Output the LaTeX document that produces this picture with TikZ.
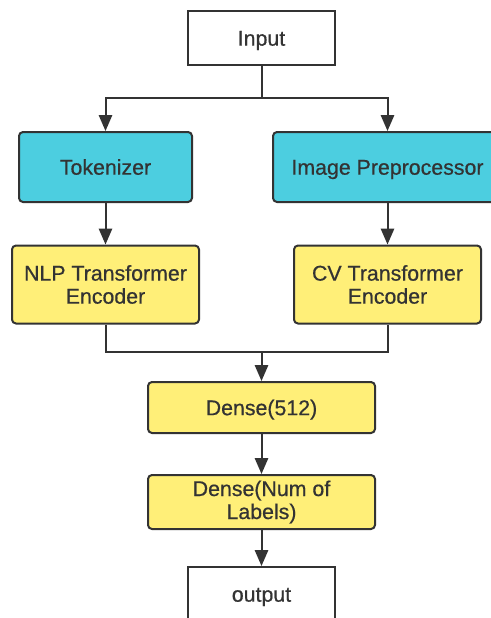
\documentclass[tikz,border=0pt]{standalone}
\usepackage{fontspec}
\setmainfont{Liberation Sans}
\newfontfamily\boxfont{Liberation Sans}[FakeBold=0.6]
\usetikzlibrary{arrows.meta}
\definecolor{lineC}{RGB}{51,51,51}
\definecolor{cyanC}{RGB}{76,206,224}
\definecolor{yellowC}{RGB}{255,239,120}
\begin{document}
\begin{tikzpicture}[x=0.75pt,y=-0.75pt,
  base/.style={draw=lineC,line width=1.5pt,text=lineC,align=center,inner sep=0pt,
    font=\boxfont\fontsize{16}{17.25}\selectfont},
  one/.style={text height=14pt,text depth=2.5pt},
  whitebox/.style={base,fill=white},
  cyanbox/.style={base,fill=cyanC,rounded corners=3pt},
  yellowbox/.style={base,fill=yellowC,rounded corners=3pt},
  conn/.style={draw=lineC,line width=1.5pt},
  arr/.style={conn,-{Triangle[length=12pt,width=10pt]}}]
\clip (0,0) rectangle (491,618);
\fill[white] (0,0) rectangle (491,618);
\node[whitebox,one,minimum width=110.25pt,minimum height=40.5pt] (in) at (261.5,38) {Input};
\node[cyanbox,one,minimum width=129.75pt,minimum height=52.5pt] (tok) at (105.5,167) {Tokenizer};
\node[cyanbox,one,minimum width=171.75pt,minimum height=52.5pt] (img) at (387.5,167) {Image Preprocessor};
\node[yellowbox,minimum width=140.25pt,minimum height=58.5pt] (nlp) at (105.5,284.5) {NLP Transformer\\Encoder};
\node[yellowbox,minimum width=140.25pt,minimum height=58.5pt] (cv) at (387.5,284.5) {CV Transformer\\Encoder};
\node[yellowbox,one,minimum width=170.25pt,minimum height=38.25pt] (d1) at (261.5,407.5) {Dense(512)};
\node[yellowbox,minimum width=170.25pt,minimum height=40.5pt] (d2) at (261.5,502) {Dense(Num of\\Labels)};
\node[whitebox,one,minimum width=110.25pt,minimum height=40.5pt] (out) at (261.5,594) {output};
\coordinate (split) at (261.5,98);
\coordinate (merge) at (261.5,352);
\draw[conn] (in.south) -- (split);
\draw[arr] (split) -| (tok.north);
\draw[arr] (split) -| (img.north);
\draw[arr] (tok.south) -- (nlp.north);
\draw[arr] (img.south) -- (cv.north);
\draw[conn] (nlp.south) |- (merge) -| (cv.south);
\draw[arr] (merge) -- (d1.north);
\draw[arr] (d1.south) -- (d2.north);
\draw[arr] (d2.south) -- (out.north);
\end{tikzpicture}
\end{document}
